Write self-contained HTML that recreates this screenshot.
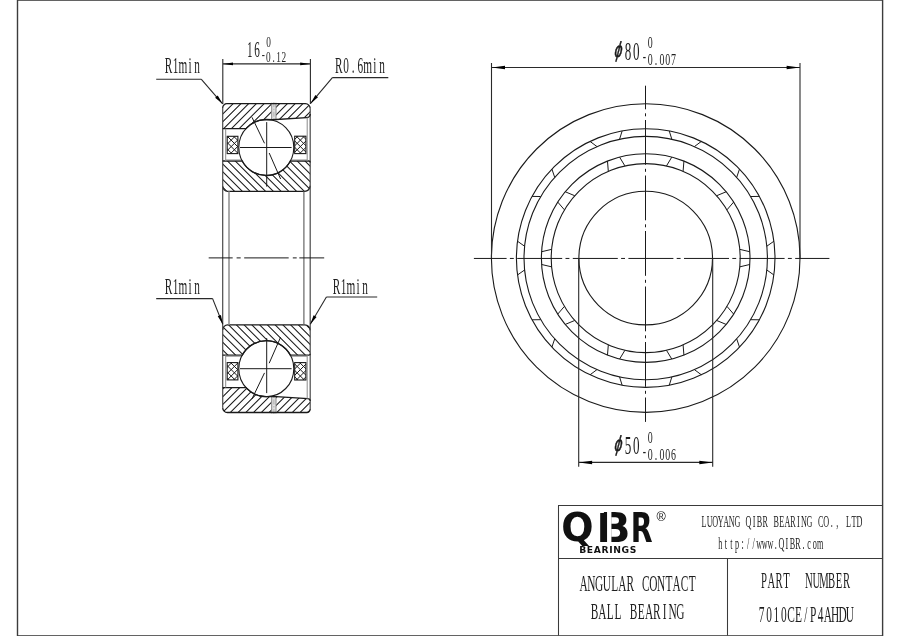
<!DOCTYPE html>
<html lang="en"><head><meta charset="utf-8"><title>QIBR 7010CE/P4AHDU Angular Contact Ball Bearing</title>
<style>
html,body{margin:0;padding:0;background:#fff;}
body{width:900px;height:636px;overflow:hidden;}
svg{display:block;will-change:transform;}
</style></head><body>
<svg width="900" height="636" viewBox="0 0 900 636">
<rect width="900" height="636" fill="#fff"/>
<g>
<clipPath id="co0"><path d="M222.7,107.9 A4.2,4.2 0 0 1 226.89999999999998,103.7 L305.4,103.7 A4.8,4.8 0 0 1 310.2,108.5 L310.2,114.0 A3.6,3.6 0 0 1 306.59999999999997,117.6 L272.3,119.75 L266.3,119.5 A27.5,28.0 0 0 0 246.01,128.6 L222.7,128.6 Z"/></clipPath>
<clipPath id="ci0"><path d="M222.7,161.0 L242.21,161.0 A27.5,28.0 0 0 0 290.39,161.0 L308.7,161.0 A1.5,1.5 0 0 1 310.2,162.5 L310.2,185.8 A5.5,5.5 0 0 1 304.7,191.3 L227.7,191.3 A5,5 0 0 1 222.7,186.3 Z"/></clipPath>
<path clip-path="url(#co0)" d="M198.45,130.60 L227.35,101.70 M206.20,130.60 L235.10,101.70 M213.95,130.60 L242.85,101.70 M221.70,130.60 L250.60,101.70 M229.45,130.60 L258.35,101.70 M237.20,130.60 L266.10,101.70 M244.95,130.60 L273.85,101.70 M252.70,130.60 L281.60,101.70 M260.45,130.60 L289.35,101.70 M268.20,130.60 L297.10,101.70 M275.95,130.60 L304.85,101.70 M283.70,130.60 L312.60,101.70 M291.45,130.60 L320.35,101.70 M299.20,130.60 L328.10,101.70 M306.95,130.60 L335.85,101.70" stroke="#1a1a1a" stroke-width="1.05" fill="none"/>
<path clip-path="url(#ci0)" d="M186.75,159.00 L221.05,193.30 M194.50,159.00 L228.80,193.30 M202.25,159.00 L236.55,193.30 M210.00,159.00 L244.30,193.30 M217.75,159.00 L252.05,193.30 M225.50,159.00 L259.80,193.30 M233.25,159.00 L267.55,193.30 M241.00,159.00 L275.30,193.30 M248.75,159.00 L283.05,193.30 M256.50,159.00 L290.80,193.30 M264.25,159.00 L298.55,193.30 M272.00,159.00 L306.30,193.30 M279.75,159.00 L314.05,193.30 M287.50,159.00 L321.80,193.30 M295.25,159.00 L329.55,193.30 M303.00,159.00 L337.30,193.30 M310.75,159.00 L345.05,193.30" stroke="#1a1a1a" stroke-width="1.05" fill="none"/>
<rect x="271.6" y="102.8" width="4.4" height="17.40" fill="#e2e2e2"/>
<path d="M271.7,102.8 V120.2 M276,102.8 V120.2" stroke="#8a8a8a" stroke-width="1" fill="none"/>
<path d="M273.9,102.2 V120.4" stroke="#8a8a8a" stroke-width="0.6" stroke-dasharray="5 1.5 1.5 1.5" fill="none"/>
<path d="M222.7,107.9 V186.3 M310.2,108.5 V185.8" stroke="#4a4a4a" stroke-width="1.2" fill="none"/>
<path d="M222.7,107.9 A4.2,4.2 0 0 1 226.89999999999998,103.7 L305.4,103.7 A4.8,4.8 0 0 1 310.2,108.5 M310.2,114.0 A3.6,3.6 0 0 1 306.59999999999997,117.6 L272.3,119.75 L266.3,119.5 A27.5,28.0 0 0 0 246.01,128.6 L222.7,128.6 M222.7,161.0 L242.21,161.0 A27.5,28.0 0 0 0 290.39,161.0 L308.7,161.0 A1.5,1.5 0 0 1 310.2,162.5 M310.2,185.8 A5.5,5.5 0 0 1 304.7,191.3 L227.7,191.3 A5,5 0 0 1 222.7,186.3" stroke="#1a1a1a" stroke-width="1.3" fill="none"/>
<path d="M225.7,128.6 V161 M307.2,117.5 V161 M225.7,160 H241.21 M291.39,160 H307.2" stroke="#8a8a8a" stroke-width="1" fill="none"/>
<ellipse cx="266.3" cy="147.5" rx="27.5" ry="28.0" stroke="#1a1a1a" stroke-width="1.1" fill="none"/>
<clipPath id="cbl0"><rect x="227.2" y="136.3" width="10.70" height="17.30"/></clipPath>
<path clip-path="url(#cbl0)" d="M207.10,135.3 L226.40,154.6 M213.50,135.3 L232.80,154.6 M229.65,135.3 L210.35,154.6 M219.90,135.3 L239.20,154.6 M236.05,135.3 L216.75,154.6 M226.30,135.3 L245.60,154.6 M242.45,135.3 L223.15,154.6 M232.70,135.3 L252.00,154.6 M248.85,135.3 L229.55,154.6 M255.25,135.3 L235.95,154.6" stroke="#1a1a1a" stroke-width="1" fill="none"/>
<rect x="227.2" y="136.3" width="10.70" height="17.30" stroke="#1a1a1a" stroke-width="1.1" fill="none"/>
<clipPath id="cbr0"><rect x="294.7" y="136.2" width="11.20" height="17.40"/></clipPath>
<path clip-path="url(#cbr0)" d="M276.20,135.2 L295.60,154.6 M282.60,135.2 L302.00,154.6 M298.90,135.2 L279.50,154.6 M289.00,135.2 L308.40,154.6 M305.30,135.2 L285.90,154.6 M295.40,135.2 L314.80,154.6 M311.70,135.2 L292.30,154.6 M301.80,135.2 L321.20,154.6 M318.10,135.2 L298.70,154.6 M324.50,135.2 L305.10,154.6" stroke="#1a1a1a" stroke-width="1" fill="none"/>
<rect x="294.7" y="136.2" width="11.20" height="17.40" stroke="#1a1a1a" stroke-width="1.1" fill="none"/>
<path d="M240,147.5 H291.6 M266.7,122.1 V186.6 M252.0,117.3 L264.5,143.3 M269.2,153.0 L280.6,179" stroke="#1a1a1a" stroke-width="1" fill="none"/>
<clipPath id="co1"><path d="M222.7,407.8 A4.7,4.7 0 0 0 227.39999999999998,412.5 L306.8,412.5 A3.4,3.4 0 0 0 310.2,409.1 L310.2,401.0 A2.4,2.4 0 0 0 307.8,398.6 L272.3,396.45 L266.3,396.7 A27.5,28.0 0 0 1 246.01,387.6 L222.7,387.6 Z"/></clipPath>
<clipPath id="ci1"><path d="M222.7,355.2 L242.21,355.2 A27.5,28.0 0 0 1 290.39,355.2 L308.7,355.2 A1.5,1.5 0 0 0 310.2,353.7 L310.2,330.4 A5.5,5.5 0 0 0 304.7,324.9 L227.7,324.9 A5,5 0 0 0 222.7,329.9 Z"/></clipPath>
<path clip-path="url(#co1)" d="M197.30,414.50 L226.20,385.60 M205.05,414.50 L233.95,385.60 M212.80,414.50 L241.70,385.60 M220.55,414.50 L249.45,385.60 M228.30,414.50 L257.20,385.60 M236.05,414.50 L264.95,385.60 M243.80,414.50 L272.70,385.60 M251.55,414.50 L280.45,385.60 M259.30,414.50 L288.20,385.60 M267.05,414.50 L295.95,385.60 M274.80,414.50 L303.70,385.60 M282.55,414.50 L311.45,385.60 M290.30,414.50 L319.20,385.60 M298.05,414.50 L326.95,385.60 M305.80,414.50 L334.70,385.60" stroke="#1a1a1a" stroke-width="1.05" fill="none"/>
<path clip-path="url(#ci1)" d="M187.90,322.90 L222.20,357.20 M195.65,322.90 L229.95,357.20 M203.40,322.90 L237.70,357.20 M211.15,322.90 L245.45,357.20 M218.90,322.90 L253.20,357.20 M226.65,322.90 L260.95,357.20 M234.40,322.90 L268.70,357.20 M242.15,322.90 L276.45,357.20 M249.90,322.90 L284.20,357.20 M257.65,322.90 L291.95,357.20 M265.40,322.90 L299.70,357.20 M273.15,322.90 L307.45,357.20 M280.90,322.90 L315.20,357.20 M288.65,322.90 L322.95,357.20 M296.40,322.90 L330.70,357.20 M304.15,322.90 L338.45,357.20 M311.90,322.90 L346.20,357.20" stroke="#1a1a1a" stroke-width="1.05" fill="none"/>
<rect x="271.6" y="396.0" width="4.4" height="17.40" fill="#e2e2e2"/>
<path d="M271.7,413.4 V396.0 M276,413.4 V396.0" stroke="#8a8a8a" stroke-width="1" fill="none"/>
<path d="M273.9,414.0 V395.8" stroke="#8a8a8a" stroke-width="0.6" stroke-dasharray="5 1.5 1.5 1.5" fill="none"/>
<path d="M222.7,407.8 V329.9 M310.2,409.1 V330.4" stroke="#4a4a4a" stroke-width="1.2" fill="none"/>
<path d="M222.7,407.8 A4.7,4.7 0 0 0 227.39999999999998,412.5 L306.8,412.5 A3.4,3.4 0 0 0 310.2,409.1 M310.2,401.0 A2.4,2.4 0 0 0 307.8,398.6 L272.3,396.45 L266.3,396.7 A27.5,28.0 0 0 1 246.01,387.6 L222.7,387.6 M222.7,355.2 L242.21,355.2 A27.5,28.0 0 0 1 290.39,355.2 L308.7,355.2 A1.5,1.5 0 0 0 310.2,353.7 M310.2,330.4 A5.5,5.5 0 0 0 304.7,324.9 L227.7,324.9 A5,5 0 0 0 222.7,329.9" stroke="#1a1a1a" stroke-width="1.3" fill="none"/>
<path d="M225.7,387.6 V355.2 M307.2,398.7 V355.2 M225.7,356.2 H241.21 M291.39,356.2 H307.2" stroke="#8a8a8a" stroke-width="1" fill="none"/>
<ellipse cx="266.3" cy="368.7" rx="27.5" ry="28.0" stroke="#1a1a1a" stroke-width="1.1" fill="none"/>
<clipPath id="cbl1"><rect x="227.2" y="362.6" width="10.70" height="17.30"/></clipPath>
<path clip-path="url(#cbl1)" d="M207.10,380.9 L226.40,361.6 M213.50,380.9 L232.80,361.6 M229.65,380.9 L210.35,361.6 M219.90,380.9 L239.20,361.6 M236.05,380.9 L216.75,361.6 M226.30,380.9 L245.60,361.6 M242.45,380.9 L223.15,361.6 M232.70,380.9 L252.00,361.6 M248.85,380.9 L229.55,361.6 M255.25,380.9 L235.95,361.6" stroke="#1a1a1a" stroke-width="1" fill="none"/>
<rect x="227.2" y="362.6" width="10.70" height="17.30" stroke="#1a1a1a" stroke-width="1.1" fill="none"/>
<clipPath id="cbr1"><rect x="294.7" y="362.6" width="11.20" height="17.40"/></clipPath>
<path clip-path="url(#cbr1)" d="M276.20,381.0 L295.60,361.6 M282.60,381.0 L302.00,361.6 M298.90,381.0 L279.50,361.6 M289.00,381.0 L308.40,361.6 M305.30,381.0 L285.90,361.6 M295.40,381.0 L314.80,361.6 M311.70,381.0 L292.30,361.6 M301.80,381.0 L321.20,361.6 M318.10,381.0 L298.70,361.6 M324.50,381.0 L305.10,361.6" stroke="#1a1a1a" stroke-width="1" fill="none"/>
<rect x="294.7" y="362.6" width="11.20" height="17.40" stroke="#1a1a1a" stroke-width="1.1" fill="none"/>
<path d="M240,368.7 H291.6 M266.7,338.1 V393.1 M252.0,398.9 L264.5,372.9 M269.2,363.2 L280.6,337.2" stroke="#1a1a1a" stroke-width="1" fill="none"/>
</g>
<path d="M222.7,186 V330 M310.2,185.5 V330.6" stroke="#4a4a4a" stroke-width="1.2" fill="none"/>
<path d="M229.0,191.3 V324.9" stroke="#8c8c8c" stroke-width="1.5" fill="none"/>
<path d="M303.9,191.3 V324.9" stroke="#666" stroke-width="1.2" fill="none"/>
<path d="M208.7,257.9 H324.2" stroke="#1a1a1a" stroke-width="1" stroke-dasharray="24 3.9 4.1 3.5 44.5 4.1 3.9 2.6 100" fill="none"/>
<path d="M222.79999999999998,59 V104 M310.4,59 V104 M222.79999999999998,63.9 H310.4" stroke="#2a2a2a" stroke-width="1.1" fill="none"/>
<polygon points="222.80,63.90 233.00,62.50 233.00,65.30" fill="#000"/>
<polygon points="310.40,63.90 300.20,65.30 300.20,62.50" fill="#000"/>
<path d="M156.2,79.3 H201.4 M201.4,79.3 L222.6,103.8" stroke="#2a2a2a" stroke-width="1.1" fill="none"/>
<polygon points="222.60,103.80 215.16,97.80 217.73,95.58" fill="#000"/>
<path d="M332.4,77.6 H388.3 M332.4,77.6 L310.6,103.4" stroke="#2a2a2a" stroke-width="1.1" fill="none"/>
<polygon points="310.60,103.40 315.37,95.12 317.97,97.32" fill="#000"/>
<path d="M156.2,298.6 H212.6 M212.6,298.6 L222.8,324.3" stroke="#2a2a2a" stroke-width="1.1" fill="none"/>
<polygon points="222.80,324.30 217.75,316.19 220.91,314.94" fill="#000"/>
<path d="M326.4,297.0 H377.2 M326.4,297.0 L310.3,324.3" stroke="#2a2a2a" stroke-width="1.1" fill="none"/>
<polygon points="310.30,324.30 313.61,315.34 316.54,317.07" fill="#000"/>
<circle cx="645.7" cy="258.1" r="154.3" stroke="#1a1a1a" stroke-width="1.1" fill="none"/>
<circle cx="645.7" cy="258.1" r="129.3" stroke="#1a1a1a" stroke-width="1.1" fill="none"/>
<circle cx="645.7" cy="258.1" r="121.7" stroke="#1a1a1a" stroke-width="1.1" fill="none"/>
<circle cx="645.7" cy="258.1" r="104.3" stroke="#1a1a1a" stroke-width="1.1" fill="none"/>
<circle cx="645.7" cy="258.1" r="94.5" stroke="#1a1a1a" stroke-width="1.1" fill="none"/>
<circle cx="645.7" cy="258.1" r="66.8" stroke="#1a1a1a" stroke-width="1.1" fill="none"/>
<path d="M622.14,130.97 L619.57,139.24 M619.59,157.12 L624.92,165.91 M669.26,130.97 L671.83,139.24 M671.81,157.12 L666.48,165.91 M701.37,141.40 L694.42,146.58 M683.93,161.06 L683.08,171.31 M739.49,169.10 L736.71,177.30 M726.18,191.76 L716.69,195.73 M759.33,196.40 L750.67,196.52 M733.67,202.06 L726.96,209.85 M773.89,241.22 L766.82,246.22 M749.81,251.73 L739.80,249.37 M773.89,274.98 L766.82,269.98 M749.81,264.47 L739.80,266.83 M759.33,319.80 L750.67,319.68 M733.67,314.14 L726.96,306.35 M739.49,347.10 L736.71,338.90 M726.18,324.44 L716.69,320.47 M701.37,374.80 L694.42,369.62 M683.93,355.14 L683.08,344.89 M669.26,385.23 L671.83,376.96 M671.81,359.08 L666.48,350.29 M622.14,385.23 L619.57,376.96 M619.59,359.08 L624.92,350.29 M590.03,374.80 L596.98,369.62 M607.47,355.14 L608.32,344.89 M551.91,347.10 L554.69,338.90 M565.22,324.44 L574.71,320.47 M532.07,319.80 L540.73,319.68 M557.73,314.14 L564.44,306.35 M517.51,274.98 L524.58,269.98 M541.59,264.47 L551.60,266.83 M517.51,241.22 L524.58,246.22 M541.59,251.73 L551.60,249.37 M532.07,196.40 L540.73,196.52 M557.73,202.06 L564.44,209.85 M551.91,169.10 L554.69,177.30 M565.22,191.76 L574.71,195.73 M590.03,141.40 L596.98,146.58 M607.47,161.06 L608.32,171.31" stroke="#1a1a1a" stroke-width="1" fill="none"/>
<path d="M473.9,258.45 H829.4" stroke="#1a1a1a" stroke-width="1" stroke-dasharray="45 3.3 3.9 3.4" stroke-dashoffset="12.3" fill="none"/>
<path d="M645.5,85.7 V421.9" stroke="#1a1a1a" stroke-width="1" stroke-dasharray="44.8 4 3 3.7" stroke-dashoffset="21.2" fill="none"/>
<path d="M491.5,63 V258.1 M800,63 V258.1 M491.5,67.5 H800" stroke="#2a2a2a" stroke-width="1.1" fill="none"/>
<polygon points="491.80,67.50 505.00,65.70 505.00,69.30" fill="#000"/>
<polygon points="799.80,67.50 786.60,69.30 786.60,65.70" fill="#000"/>
<path d="M578.7,258.1 V466.8 M712.7,258.1 V466.8 M578.7,462.4 H712.7" stroke="#2a2a2a" stroke-width="1.1" fill="none"/>
<polygon points="578.90,462.40 592.10,460.65 592.10,464.15" fill="#000"/>
<polygon points="712.50,462.40 699.30,464.15 699.30,460.65" fill="#000"/>
<rect x="17.5" y="0.1" width="865.1" height="635.8" stroke="#3c3c3c" stroke-width="1.4" fill="none"/>
<path d="M558.5,635.5 V505.5 H882.6 M558.5,558.4 H882.6 M727.5,558.4 V635.5" stroke="#3a3a3a" stroke-width="1.05" fill="none"/>
<g font-family="'Liberation Serif', serif" fill="#1e1e1e">
<text transform="translate(164.8,72.5) scale(0.5,1)" x="-0.34 15.95 27.21 47.26 59.15" y="0" font-size="22.6" xml:space="preserve">R1min</text>
<text transform="translate(335.2,72.5) scale(0.5,1)" x="-0.34 15.95 33.17 44.75 56.01 76.06 87.95" y="0" font-size="22.6" xml:space="preserve">R0.6min</text>
<text transform="translate(164.8,293.9) scale(0.5,1)" x="-0.34 15.95 27.21 47.26 59.15" y="0" font-size="22.6" xml:space="preserve">R1min</text>
<text transform="translate(332.8,293.9) scale(0.5,1)" x="-0.34 15.95 27.21 47.26 59.15" y="0" font-size="22.6" xml:space="preserve">R1min</text>
<text transform="translate(246.2,56.8) scale(0.5,1)" x="1.60 16.00" y="0" font-size="22.4" xml:space="preserve">16</text>
<text transform="translate(265.9,47.3) scale(0.6,1)" x="0.38" y="0" font-size="15.5" xml:space="preserve">0</text>
<text transform="translate(260.8,61.5) scale(0.6,1)" x="1.67 8.88 19.31 25.88 34.38" y="-2.17 0 0 0 0" font-size="15.5" xml:space="preserve">-0.12</text>
<text transform="translate(624.0,59.8) scale(0.5,1)" x="1.70 18.20" y="0" font-size="26.2" xml:space="preserve">80</text>
<text transform="translate(647.4,48.2) scale(0.6,1)" x="0.71" y="0" font-size="16.5" xml:space="preserve">0</text>
<text transform="translate(641.6,64.7) scale(0.6,1)" x="2.09 10.38 22.10 29.71 39.38 49.04" y="-2.31 0 0 0 0 0" font-size="16.5" xml:space="preserve">-0.007</text>
<text transform="translate(624.0,454.3) scale(0.5,1)" x="1.70 18.20" y="0" font-size="26.2" xml:space="preserve">50</text>
<text transform="translate(647.4,442.8) scale(0.6,1)" x="0.71" y="0" font-size="16.5" xml:space="preserve">0</text>
<text transform="translate(641.6,459.5) scale(0.6,1)" x="2.09 10.38 22.10 29.71 39.38 49.04" y="-2.31 0 0 0 0 0" font-size="16.5" xml:space="preserve">-0.006</text>
<text transform="translate(701.3,526.7) scale(0.5,1)" x="0.57 10.76 21.86 32.96 44.06 55.16 66.26 81.21 88.46 102.74 111.11 122.21 136.71 144.41 155.97 166.16 177.71 191.54 199.46 210.56 225.51 233.21 243.86 258.81 269.91 281.01 289.17 300.27 310.46" y="0" font-size="16.3" xml:space="preserve">LUOYANG QIBR BEARING CO., LTD</text>
<text transform="translate(717.6,548.9) scale(0.5,1)" x="1.47 14.39 25.49 34.77 47.69 58.79 69.89 77.36 88.46 99.56 114.51 121.76 136.04 144.41 155.51 170.01 179.53 190.17 199.01" y="0" font-size="16.3" xml:space="preserve">http://www.QIBR.com</text>
<text transform="translate(760.2,588.2) scale(0.47,1)" x="1.67 15.74 32.32 48.92 68.97 84.93 95.53 111.48 125.55 144.03 160.62 175.94" y="0" font-size="22.7" xml:space="preserve">PART  NUMBER</text>
<text transform="translate(758.0,621.6) scale(0.5,1)" x="1.67 16.38 31.07 45.77 58.58 73.92 92.40 103.94 119.27 131.45 146.15 160.85 175.55" y="0" font-size="22.7" xml:space="preserve">7010CE/P4AHDU</text>
<text transform="translate(579.8,590.5) scale(0.5,1)" x="-0.45 15.05 30.55 46.05 62.82 77.05 93.18 113.41 124.18 139.05 154.55 171.32 185.55 201.68 217.82" y="0" font-size="22.7" xml:space="preserve">ANGULAR CONTACT</text>
<text transform="translate(590.6,618.6) scale(0.5,1)" x="0.23 15.20 32.07 47.67 67.36 78.23 94.47 108.80 125.03 144.42 155.60 171.20" y="0" font-size="22.7" xml:space="preserve">BALL BEARING</text>
</g>
<text transform="translate(614.00,56.60) skewX(-7) scale(0.64,1)" font-family="'Liberation Sans', sans-serif" font-style="italic" font-size="21.5" fill="#1a1a1a" stroke="#1a1a1a" stroke-width="0.65">ϕ</text>
<text transform="translate(614.00,451.10) skewX(-7) scale(0.64,1)" font-family="'Liberation Sans', sans-serif" font-style="italic" font-size="21.5" fill="#1a1a1a" stroke="#1a1a1a" stroke-width="0.65">ϕ</text>
<clipPath id="cq"><rect x="555" y="505" width="110" height="40.9"/></clipPath>
<g font-weight="bold" fill="#111">
<g clip-path="url(#cq)"><text font-family="'DejaVu Sans', 'Liberation Sans', sans-serif" font-size="40.5"><tspan x="561.2" y="541.0" font-size="39.2" textLength="32.33" lengthAdjust="spacingAndGlyphs">Q</tspan><tspan x="597.0" y="541.5" font-family="'Liberation Sans', sans-serif" font-size="42.9" textLength="13.11" lengthAdjust="spacingAndGlyphs">I</tspan><tspan x="600.3" y="541.5" textLength="30.10" lengthAdjust="spacingAndGlyphs">B</tspan><tspan x="630.8" y="541.5" textLength="21.83" lengthAdjust="spacingAndGlyphs">R</tspan></text></g>
<rect x="607.05" y="508" width="4.35" height="36" fill="#fff"/>
<text x="579.2" y="553.4" font-family="'DejaVu Sans', 'Liberation Sans', sans-serif" font-size="9.2" textLength="57.2" lengthAdjust="spacing">BEARINGS</text>
</g>
<text x="656.6" y="520.9" font-size="12.6" font-family="'Liberation Sans', sans-serif" fill="#111">®</text>
</svg>
</body></html>
